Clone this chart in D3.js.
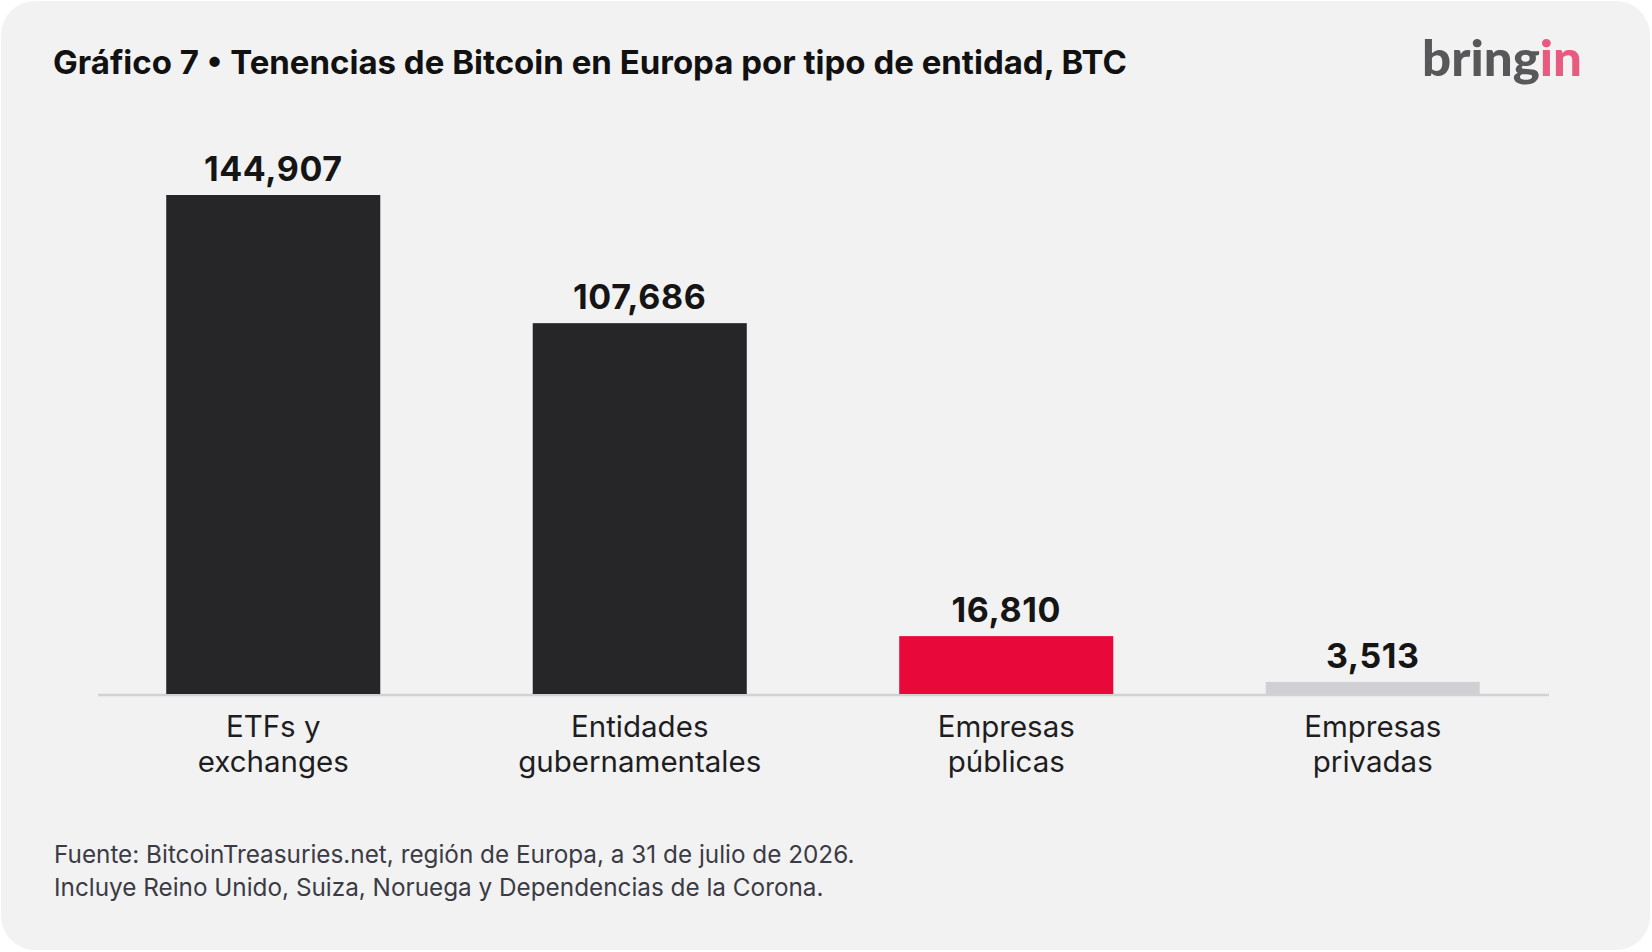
<!DOCTYPE html>
<html>
<head>
<meta charset="utf-8">
<script src="https://cdn.jsdelivr.net/npm/d3@7"></script>
<style>
  html, body { margin: 0; padding: 0; background: #ffffff; }
  svg { display: block; font-family: Inter, "Noto Sans", sans-serif; }
</style>
</head>
<body>
<svg id="chart" width="1652" height="952"></svg>
<script>
// chart data
const categories = [["ETFs y", "exchanges"], ["Entidades", "gubernamentales"], ["Empresas", "públicas"], ["Empresas", "privadas"]];
const holdings = [144907, 107686, 16810, 3513];
const barColors = ["#262628", "#262628", "#e8083a", "#d0cfd4"];

const titleText = "Gráfico 7 • Tenencias de Bitcoin en Europa por tipo de entidad, BTC";
const footnotes = [
    "Fuente: BitcoinTreasuries.net, región de Europa, a 31 de julio de 2026.",
    "Incluye Reino Unido, Suiza, Noruega y Dependencias de la Corona."
];

let svg = d3.select("#chart");
let width = +svg.attr("width");
let height = +svg.attr("height");

// card background
svg.append("rect")
    .attr("x", 1).attr("y", 1)
    .attr("width", width - 3).attr("height", height - 3)
    .attr("rx", 34).attr("ry", 34)
    .attr("fill", "#f2f2f2");

// title
svg.append("text")
    .attr("x", 53).attr("y", 74)
    .attr("font-size", 33)
    .attr("font-weight", 700)
    .attr("fill", "#111111")
    .text(titleText);

// logo
let logo = svg.append("text")
    .attr("x", 1422).attr("y", 76)
    .attr("font-family", "Lato, 'Open Sans', sans-serif")
    .attr("font-size", 50)
    .attr("font-weight", 900)
    .attr("textLength", 160)
    .attr("lengthAdjust", "spacingAndGlyphs");
logo.append("tspan").attr("fill", "#58585b").text("bring");
logo.append("tspan").attr("fill", "#e85a80").text("in");

// scales
let x = d3.scaleBand()
    .domain(d3.range(holdings.length))
    .range([90, 1556])
    .paddingInner(0.416)
    .paddingOuter(0.208);
let y = d3.scaleLinear()
    .domain([0, d3.max(holdings)])
    .range([694, 195]);

let g = svg.append("g");

// baseline
g.append("line")
    .attr("x1", 98).attr("x2", 1549)
    .attr("y1", y(0) + 1).attr("y2", y(0) + 1)
    .attr("stroke", "#d2d2d6")
    .attr("stroke-width", 2.5);

// bars
g.selectAll(".bar")
    .data(holdings)
    .enter()
    .append("rect")
    .attr("class", "bar")
    .attr("x", (d, i) => x(i))
    .attr("width", x.bandwidth())
    .attr("y", (d) => y(d))
    .attr("height", (d) => y(0) - y(d))
    .attr("fill", (d, i) => barColors[i]);

// value labels
g.selectAll(".value")
    .data(holdings)
    .enter()
    .append("text")
    .attr("class", "value")
    .attr("x", (d, i) => x(i) + x.bandwidth() / 2)
    .attr("y", (d) => y(d) - 14)
    .attr("text-anchor", "middle")
    .attr("font-size", 34)
    .attr("font-weight", 700)
    .attr("letter-spacing", 0.6)
    .attr("fill", "#151515")
    .text((d) => d3.format(",")(d));

// category labels
let cat = g.selectAll(".cat")
    .data(categories)
    .enter()
    .append("text")
    .attr("class", "cat")
    .attr("text-anchor", "middle")
    .attr("font-size", 29.5)
    .attr("fill", "#1e1e22");
cat.selectAll("tspan")
    .data((d, i) => d.map((line) => ({line, i})))
    .enter()
    .append("tspan")
    .attr("x", (d) => x(d.i) + x.bandwidth() / 2)
    .attr("y", (d, j) => 737 + j * 35)
    .text((d) => d.line);

// footnotes
svg.selectAll(".note")
    .data(footnotes)
    .enter()
    .append("text")
    .attr("class", "note")
    .attr("x", 54)
    .attr("y", (d, i) => 863 + i * 33)
    .attr("font-size", 24.3)
    .attr("fill", "#3b3b45")
    .text((d) => d);
</script>
</body>
</html>
